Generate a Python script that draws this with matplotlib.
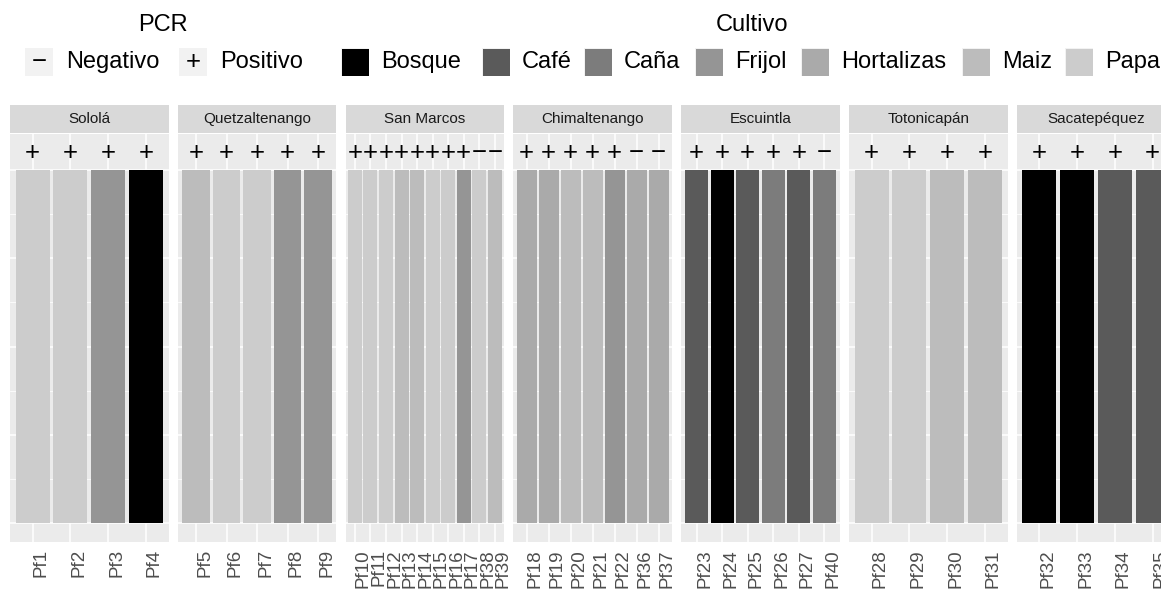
import matplotlib
matplotlib.use("Agg")
import matplotlib.pyplot as plt
from matplotlib.patches import Rectangle

plt.rcParams['font.family'] = ['Liberation Sans', 'DejaVu Sans']

# ---------------- data ----------------
regions = ["Sololá", "Quetzaltenango", "San Marcos", "Chimaltenango",
           "Escuintla", "Totonicapán", "Sacatepéquez"]

samples_solola = ["Pf1", "Pf2", "Pf3", "Pf4"]
samples_quetz = ["Pf5", "Pf6", "Pf7", "Pf8", "Pf9"]
samples_sanmarcos = ["Pf10", "Pf11", "Pf12", "Pf13", "Pf14", "Pf15", "Pf16", "Pf17", "Pf38", "Pf39"]
samples_chimal = ["Pf18", "Pf19", "Pf20", "Pf21", "Pf22", "Pf36", "Pf37"]
samples_escuintla = ["Pf23", "Pf24", "Pf25", "Pf26", "Pf27", "Pf40"]
samples_totonicapan = ["Pf28", "Pf29", "Pf30", "Pf31"]
samples_sacatep = ["Pf32", "Pf33", "Pf34", "Pf35"]

cultivo_solola = ["Papa", "Papa", "Frijol", "Bosque"]
cultivo_quetz = ["Maiz", "Papa", "Papa", "Frijol", "Frijol"]
cultivo_sanmarcos = ["Papa", "Papa", "Papa", "Maiz", "Maiz", "Papa", "Papa", "Frijol", "Papa", "Maiz"]
cultivo_chimal = ["Hortalizas", "Hortalizas", "Maiz", "Maiz", "Frijol", "Hortalizas", "Hortalizas"]
cultivo_escuintla = ["Café", "Bosque", "Café", "Caña", "Café", "Caña"]
cultivo_totonicapan = ["Papa", "Papa", "Maiz", "Maiz"]
cultivo_sacatep = ["Bosque", "Bosque", "Café", "Café"]

pcr_solola = ["+", "+", "+", "+"]
pcr_quetz = ["+", "+", "+", "+", "+"]
pcr_sanmarcos = ["+", "+", "+", "+", "+", "+", "+", "+", "−", "−"]
pcr_chimal = ["+", "+", "+", "+", "+", "−", "−"]
pcr_escuintla = ["+", "+", "+", "+", "+", "−"]
pcr_totonicapan = ["+", "+", "+", "+"]
pcr_sacatep = ["+", "+", "+", "+"]

cultivo_levels = ["Bosque", "Café", "Caña", "Frijol", "Hortalizas", "Maiz", "Papa"]
cultivo_colors = ["#000000", "#5A5A5A", "#7C7C7C", "#959595", "#AAAAAA", "#BCBCBC", "#CCCCCC"]
pcr_levels = ["−", "+"]
pcr_labels = ["Negativo", "Positivo"]

bar_value = 1.0
label_value = 1.05

samples_by_region = [samples_solola, samples_quetz, samples_sanmarcos, samples_chimal,
                     samples_escuintla, samples_totonicapan, samples_sacatep]
cultivo_by_region = [cultivo_solola, cultivo_quetz, cultivo_sanmarcos, cultivo_chimal,
                     cultivo_escuintla, cultivo_totonicapan, cultivo_sacatep]
pcr_by_region = [pcr_solola, pcr_quetz, pcr_sanmarcos, pcr_chimal,
                 pcr_escuintla, pcr_totonicapan, pcr_sacatep]

color_map = dict(zip(cultivo_levels, cultivo_colors))

# ---------------- layout (pixels) ----------------
W, H = 1161, 590
fig = plt.figure(figsize=(W / 100, H / 100), dpi=100)
fig.patch.set_facecolor("white")

panel_left0 = 10.0
panel_step = 167.8
panel_w = 158.5
panel_top = 134.0
panel_bot = 541.5
strip_top = 105.0
strip_bot = 133.0

PANEL_BG = "#EBEBEB"
STRIP_BG = "#D9D9D9"

for i, reg in enumerate(regions):
    left = panel_left0 + i * panel_step
    ax = fig.add_axes([left / W, 1 - panel_bot / H, panel_w / W, (panel_bot - panel_top) / H])
    names = samples_by_region[i]
    cult = cultivo_by_region[i]
    pcr = pcr_by_region[i]
    x = list(range(len(names)))
    ax.set_facecolor(PANEL_BG)
    ax.set_axisbelow(True)
    ax.bar(x, [bar_value] * len(x), width=0.9, color=[color_map[c] for c in cult],
           edgecolor="none", zorder=2)
    for xi, s in zip(x, pcr):
        ax.text(xi, label_value, s, ha="center", va="center", fontsize=18.5,
                color="black", zorder=3)
    ax.set_xlim(-0.6, len(x) - 1 + 0.6)
    ax.set_ylim(-0.0525, 1.1025)
    ax.set_yticks([0, 0.25, 0.5, 0.75, 1.0])
    ax.set_yticks([0.125, 0.375, 0.625, 0.875], minor=True)
    ax.set_yticklabels([])
    ax.grid(which="major", axis="both", color="white", lw=1.1)
    ax.grid(which="minor", axis="y", color="white", lw=0.55)
    ax.set_xticks(x)
    ax.set_xticklabels(names, rotation=90, ha="left", va="top", fontsize=13.5,
                       color="#4D4D4D")
    ax.tick_params(axis="both", which="both", length=0)
    ax.tick_params(axis="x", pad=5.5)
    for sp in ax.spines.values():
        sp.set_visible(False)

    sax = fig.add_axes([left / W, 1 - strip_bot / H, panel_w / W, (strip_bot - strip_top) / H])
    sax.set_facecolor(STRIP_BG)
    sax.set_xticks([])
    sax.set_yticks([])
    for sp in sax.spines.values():
        sp.set_visible(False)
    sax.text(0.5, 0.5, reg, ha="center", va="center", fontsize=11, color="#1A1A1A",
             transform=sax.transAxes)

# ---------------- legends ----------------
lax = fig.add_axes([0, 0, 1, 1], zorder=5)
lax.set_xlim(0, W)
lax.set_ylim(H, 0)
lax.axis("off")
lax.patch.set_alpha(0)

key_top, key_size = 48, 28
key_cy = key_top + key_size / 2
FS = 17

# PCR legend
pcr_box_x = [25, 179]
for bx, sym, lab in zip(pcr_box_x, pcr_levels, pcr_labels):
    lax.add_patch(Rectangle((bx, key_top), key_size, key_size, facecolor="#F2F2F2",
                            edgecolor="none"))
    lax.text(bx + key_size / 2, key_cy, sym, ha="center", va="center", fontsize=18.5)
    lax.text(bx + key_size + 13, key_cy, lab, ha="left", va="center", fontsize=FS)
lax.text(163, 25, "PCR", ha="center", va="center", fontsize=FS)

# Cultivo legend
cult_box_x = [341, 482, 584, 695, 801, 962, 1065]
for bx, lab, col in zip(cult_box_x, cultivo_levels, cultivo_colors):
    lax.add_patch(Rectangle((bx, key_top), key_size, key_size, facecolor="#F2F2F2",
                            edgecolor="none"))
    lax.add_patch(Rectangle((bx + 0.5, key_top + 0.5), key_size - 1, key_size - 1,
                            facecolor=col, edgecolor="none"))
    lax.text(bx + key_size + 12, key_cy, lab, ha="left", va="center", fontsize=FS)
lax.text(752, 25, "Cultivo", ha="center", va="center", fontsize=FS)

fig.savefig("out.png", dpi=100)
